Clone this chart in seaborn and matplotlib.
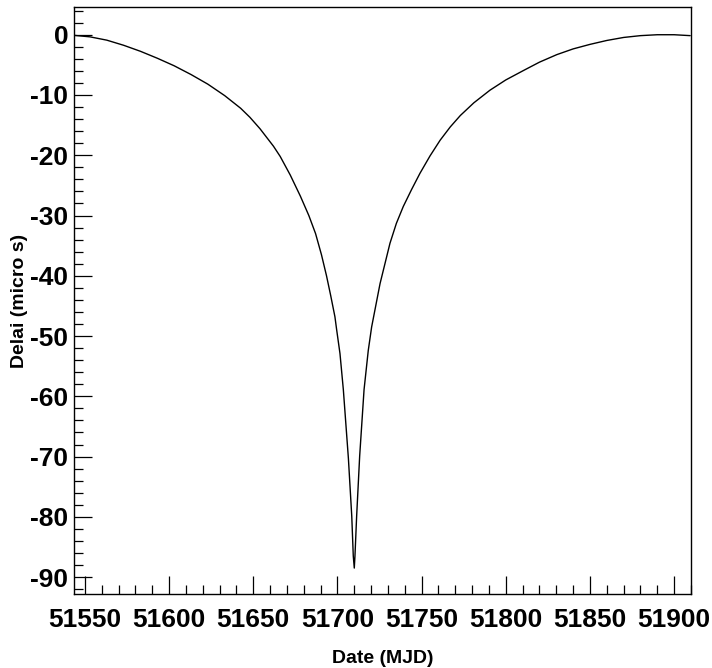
import numpy as np
import pandas as pd
import seaborn as sns
import matplotlib.pyplot as plt
from matplotlib.ticker import MultipleLocator

# Values
mjd = [51543.5, 51553.0, 51563.0, 51573.0, 51583.0, 51593.0, 51603.0, 51613.0,
       51623.0, 51633.0, 51642.5, 51648.0, 51654.0, 51662.0, 51666.0, 51672.0,
       51678.0, 51683.0, 51687.0, 51690.5, 51693.5, 51696.0, 51698.5, 51699.5,
       51701.5, 51703.5, 51706.5, 51708.5, 51709.4, 51710.0, 51710.4, 51711.4,
       51713.2, 51715.8, 51718.3, 51720.3, 51725.3, 51731.2, 51735.0, 51739.1,
       51744.0, 51749.0, 51755.0, 51761.0, 51767.0, 51773.0, 51781.0, 51790.6,
       51800.0, 51810.4, 51820.0, 51830.3, 51840.0, 51850.0, 51860.0, 51870.0,
       51880.0, 51890.0, 51900.0, 51909.5]
delay = [-0.1, -0.35, -0.9, -1.75, -2.75, -3.9, -5.15, -6.6,
         -8.2, -10.1, -12.2, -13.7, -15.6, -18.5, -20.2, -23.3,
         -26.8, -30.0, -33.0, -36.5, -40.0, -43.3, -46.8, -48.9,
         -52.9, -58.9, -70.3, -79.9, -86.5, -88.5, -86.5, -79.9,
         -69.9, -58.9, -52.4, -48.5, -41.3, -34.6, -31.3, -28.5,
         -25.7, -23.0, -20.1, -17.5, -15.3, -13.4, -11.3, -9.2,
         -7.5, -5.95, -4.55, -3.3, -2.35, -1.6, -0.95, -0.45,
         -0.15, 0.0, 0.0, -0.15]

df = pd.DataFrame({'Date (MJD)': mjd, 'Delai (micro s)': delay})

sns.set_style("white")
plt.rcParams['font.family'] = ['Liberation Sans', 'DejaVu Sans']
plt.rcParams['font.weight'] = 'bold'
plt.rcParams['axes.unicode_minus'] = False
for key in ['text.color', 'axes.labelcolor', 'xtick.color', 'ytick.color']:
    plt.rcParams[key] = 'black'

fig = plt.figure(figsize=(7.12, 6.68), dpi=100)
ax = fig.add_axes([0.1039, 0.1108, 0.8666, 0.8787])

sns.lineplot(data=df, x='Date (MJD)', y='Delai (micro s)', ax=ax,
             color='black', linewidth=1.0, sort=False, estimator=None)

ax.set_xlim(51543.5, 51910.0)
ax.set_ylim(-92.8, 4.6)

ax.xaxis.set_major_locator(MultipleLocator(50))
ax.xaxis.set_minor_locator(MultipleLocator(10))
ax.yaxis.set_major_locator(MultipleLocator(10))
ax.yaxis.set_minor_locator(MultipleLocator(2))

ax.tick_params(axis='both', which='both', direction='in', color='black',
               width=0.9, bottom=True, left=True, top=False, right=False)
ax.tick_params(axis='both', which='major', length=13, labelsize=19)
ax.tick_params(axis='both', which='minor', length=6.5)
ax.tick_params(axis='x', which='major', pad=10)
ax.tick_params(axis='y', which='major', pad=4)

for spine in ax.spines.values():
    spine.set_color('black')
    spine.set_linewidth(1.0)

ax.set_xlabel('Date (MJD)', fontsize=14, fontweight='bold', labelpad=13)
ax.set_ylabel('Delai (micro s)', fontsize=14, fontweight='bold')
ax.yaxis.set_label_coords(-0.0746, 0.5)

fig.savefig('out.png', dpi=100)
